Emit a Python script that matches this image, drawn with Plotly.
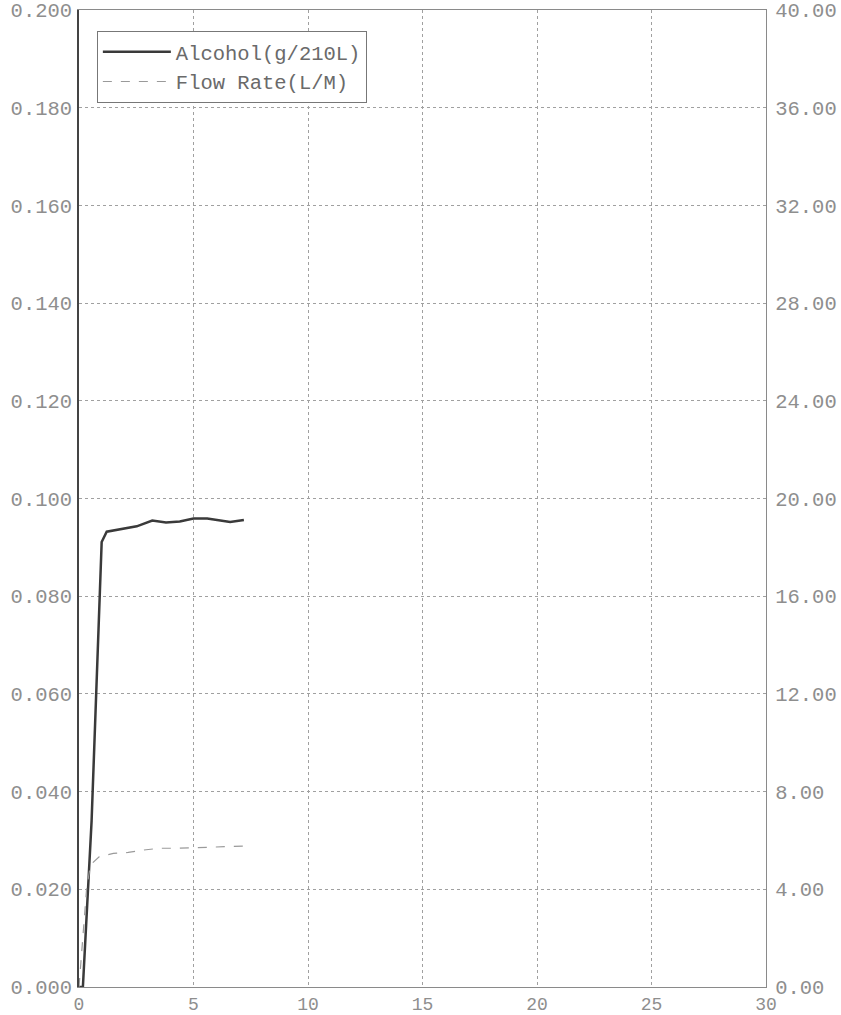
import plotly.graph_objects as go

# Alcohol (g/210L) trace, left axis
alc_x = [0, 0.17, 0.55, 0.89, 0.95, 0.99, 1.21, 1.79, 2.52, 3.2, 3.8, 4.4, 5.0, 5.6, 6.1, 6.6, 7.2]
alc_y = [0, 0, 0.034, 0.080, 0.088, 0.0911, 0.0932, 0.0937, 0.0943, 0.0955, 0.0951, 0.0953,
         0.0959, 0.0959, 0.0955, 0.0952, 0.0956]

# Flow rate (L/M) trace, right axis
flow_x = [0, 0.33, 0.5, 0.88, 1.5, 2.15, 2.74, 3.5, 4.3, 5.0, 6.0, 7.2]
flow_y = [0, 4.0, 5.0, 5.33, 5.47, 5.51, 5.6, 5.68, 5.68, 5.70, 5.74, 5.77]

x_ticks = [0, 5, 10, 15, 20, 25, 30]
left_ticks = [0.000, 0.020, 0.040, 0.060, 0.080, 0.100, 0.120, 0.140, 0.160, 0.180, 0.200]
right_ticks = [0, 4, 8, 12, 16, 20, 24, 28, 32, 36, 40]

FONT = "Liberation Mono, DejaVu Sans Mono, monospace"
TICK_COLOR = "#8e8e8e"
FS = 20.5

fig = go.Figure()
fig.add_trace(go.Scatter(x=alc_x, y=alc_y, mode="lines", name="Alcohol(g/210L)",
                         line=dict(color="#3a3a3a", width=2.5)))
fig.add_trace(go.Scatter(x=flow_x, y=flow_y, mode="lines", name="Flow Rate(L/M)",
                         yaxis="y2", line=dict(color="#9a9a9a", width=1.2, dash="dash")))

fig.update_layout(
    width=841, height=1015,
    margin=dict(l=79, r=75, t=10, b=28, autoexpand=False),
    paper_bgcolor="white", plot_bgcolor="white",
    font=dict(family=FONT, size=FS, color=TICK_COLOR),
    xaxis=dict(range=[0, 30], tickvals=x_ticks, ticktext=[str(v) for v in x_ticks],
               showgrid=True, gridcolor="#a0a0a0", griddash="dot", gridwidth=1,
               showline=True, linecolor="#8a8a8a", linewidth=1.2, mirror=True,
               zeroline=False, ticks="", ticklabelstandoff=0, automargin=False,
               tickfont=dict(family=FONT, size=18, color=TICK_COLOR)),
    yaxis=dict(range=[0, 0.2], tickvals=left_ticks, tickformat=".3f",
               showgrid=True, gridcolor="#a0a0a0", griddash="dot", gridwidth=1,
               showline=True, linecolor="#444444", linewidth=1.6,
               zeroline=False, ticks="", ticklabelstandoff=1, automargin=False,
               tickfont=dict(family=FONT, size=FS, color=TICK_COLOR)),
    yaxis2=dict(range=[0, 40], tickvals=right_ticks, tickformat=".2f",
                overlaying="y", side="right", showgrid=False,
                showline=True, linecolor="#8a8a8a", linewidth=1.2,
                zeroline=False, ticks="", ticklabelstandoff=4, automargin=False,
                tickfont=dict(family=FONT, size=FS, color=TICK_COLOR)),
    legend=dict(x=0.026, y=0.9785, xanchor="left", yanchor="top",
                bgcolor="white", bordercolor="#777777", borderwidth=1,
                font=dict(family=FONT, size=FS, color="#6a6a6a"),
                itemwidth=68, tracegroupgap=0),
    showlegend=True,
)

fig.write_html("out.html", config={"displayModeBar": False},
               post_script="document.body.style.margin='0';")
